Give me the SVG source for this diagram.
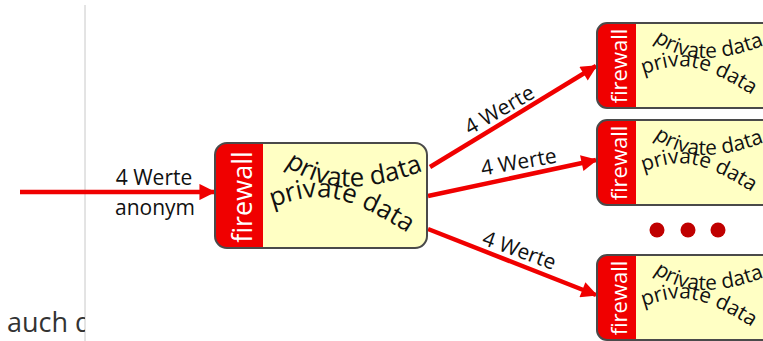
<svg xmlns="http://www.w3.org/2000/svg" width="763" height="341" viewBox="0 0 763 341">
<style>
.box{fill:#ffffc4;stroke:none}
.frame{fill:none;stroke:#4a4a4a;stroke-width:2}
.band{fill:#f00000}
.fw{font-family:"Open Sans","Liberation Sans",sans-serif;fill:#fff;text-anchor:middle}
.pd{font-family:"Open Sans","Liberation Sans",sans-serif;fill:#111;font-size:26px}
.lbl{font-family:"Open Sans","Liberation Sans",sans-serif;fill:#111;font-size:21px;text-anchor:middle}
.arr{stroke:#f00000;stroke-width:4.5;fill:none}
.dot{fill:#c00000}
</style>
<defs>
<marker id="ah" viewBox="0 0 10 10" refX="9" refY="5" markerWidth="4.5" markerHeight="3.6" orient="auto" markerUnits="strokeWidth">
<path d="M0,0 L10,5 L0,10 z" fill="#f00000"/>
</marker>
<path id="pA" d="M9 64 C 50 52, 72 38, 168 106"/>
<path id="pB" d="M22 22 Q 72 62, 160 28"/>
<clipPath id="cl"><rect x="0" y="0" width="85" height="341"/></clipPath>
</defs>

<line x1="85" y1="5" x2="85" y2="341" stroke="#c8c8c8" stroke-width="1"/>
<text x="7" y="332" clip-path="url(#cl)" font-family="Open Sans,Liberation Sans,sans-serif" font-size="27" fill="#333">auch d</text>

<g id="connectors">
<line class="arr" x1="20" y1="192" x2="214" y2="192" marker-end="url(#ah)"/>
<line class="arr" x1="430" y1="167" x2="596" y2="66" marker-end="url(#ah)"/>
<line class="arr" x1="428" y1="196" x2="596" y2="160" marker-end="url(#ah)"/>
<line class="arr" x1="428" y1="229" x2="596" y2="295" marker-end="url(#ah)"/>
<text class="lbl" x="154" y="185">4 Werte</text>
<text class="lbl" x="155" y="215">anonym</text>
<text class="lbl" transform="translate(503,116) rotate(-30)">4 Werte</text>
<text class="lbl" transform="translate(520,169) rotate(-10)">4 Werte</text>
<text class="lbl" transform="translate(517,257) rotate(20)">4 Werte</text>
</g>

<g id="main">
<rect class="box" x="215" y="143" width="212" height="105" rx="12"/>
<path class="band" d="M227 143 H263 V248 H227 A12 12 0 0 1 215 236 V155 A12 12 0 0 1 227 143 z"/>
<rect class="frame" x="215" y="143" width="212" height="105" rx="12"/>
<text class="fw" font-size="27" transform="translate(252,197) rotate(-90)">firewall</text>
<g transform="translate(263,143)">
<text class="pd"><textPath href="#pB">private data</textPath></text>
<text class="pd"><textPath href="#pA">private data</textPath></text>
</g>
</g>

<g id="n1">
<rect class="box" x="597" y="23" width="180" height="85" rx="10"/>
<path class="band" d="M607 23 H636 V108 H607 A10 10 0 0 1 597 98 V33 A10 10 0 0 1 607 23 z"/>
<rect class="frame" x="597" y="23" width="180" height="85" rx="10"/>
<text class="fw" font-size="22" transform="translate(627,66) rotate(-90)">firewall</text>
<g transform="translate(636,23) scale(0.8)">
<text class="pd"><textPath href="#pB">private data</textPath></text>
<text class="pd"><textPath href="#pA">private data</textPath></text>
</g>
</g>

<g id="n2">
<rect class="box" x="597" y="120" width="180" height="85" rx="10"/>
<path class="band" d="M607 120 H636 V205 H607 A10 10 0 0 1 597 195 V130 A10 10 0 0 1 607 120 z"/>
<rect class="frame" x="597" y="120" width="180" height="85" rx="10"/>
<text class="fw" font-size="22" transform="translate(627,163) rotate(-90)">firewall</text>
<g transform="translate(636,120) scale(0.8)">
<text class="pd"><textPath href="#pB">private data</textPath></text>
<text class="pd"><textPath href="#pA">private data</textPath></text>
</g>
</g>

<g id="dots">
<circle class="dot" cx="657" cy="230" r="7.5"/>
<circle class="dot" cx="688" cy="230" r="7.5"/>
<circle class="dot" cx="718" cy="230" r="7.5"/>
</g>

<g id="n3">
<rect class="box" x="597" y="255" width="180" height="85" rx="10"/>
<path class="band" d="M607 255 H636 V340 H607 A10 10 0 0 1 597 330 V265 A10 10 0 0 1 607 255 z"/>
<rect class="frame" x="597" y="255" width="180" height="85" rx="10"/>
<text class="fw" font-size="22" transform="translate(627,298) rotate(-90)">firewall</text>
<g transform="translate(636,255) scale(0.8)">
<text class="pd"><textPath href="#pB">private data</textPath></text>
<text class="pd"><textPath href="#pA">private data</textPath></text>
</g>
</g>
</svg>
